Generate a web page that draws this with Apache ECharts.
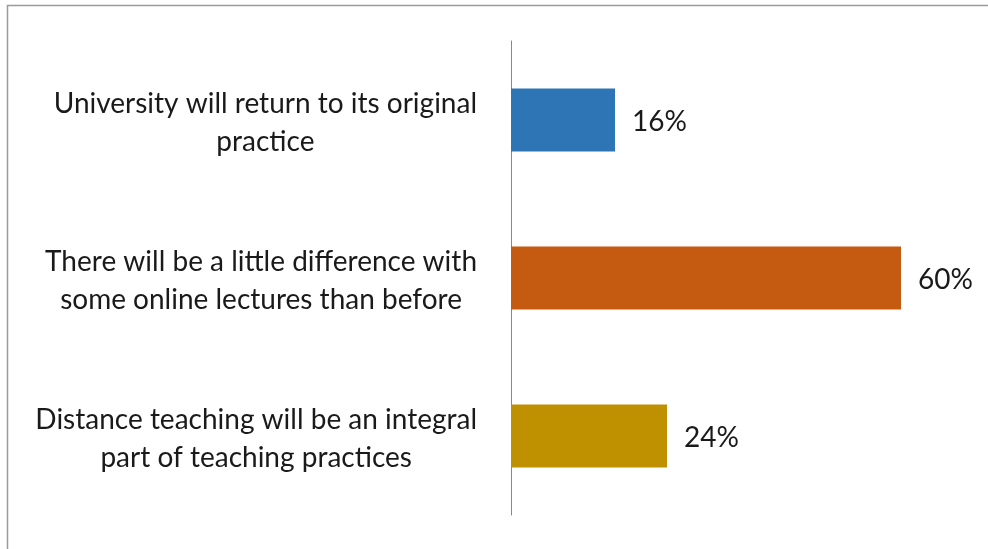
<!DOCTYPE html>
<html>
<head>
<meta charset="utf-8">
<script src="https://cdn.jsdelivr.net/npm/echarts@6/dist/echarts.min.js"></script>
<style>
html,body{margin:0;padding:0;background:#fff;}
#chart{width:988px;height:549px;}
</style>
</head>
<body>
<div id="chart"></div>
<script>
var categories = [
  "University will return to its original\npractice",
  "There will be a little difference with\nsome online lectures than before",
  "Distance teaching will be an integral\npart of teaching practices"
];
var values = [16, 60, 24];
var barColors = ["#2e75b6", "#c55a11", "#bf9000"];

var FONT = "Lato";
var FS = 28;
var chart = echarts.init(document.getElementById('chart'));
chart.setOption({
  animation: false,
  backgroundColor: '#fff',
  graphic: [{
    type: 'rect',
    shape: { x: 7.5, y: 5.5, width: 1000, height: 600 },
    style: { fill: 'none', stroke: '#9a9a9a', lineWidth: 1.5 },
    silent: true
  }],
  grid: { left: 511, top: 41, width: 455, height: 474, containLabel: false },
  xAxis: {
    type: 'value', min: 0, max: 70,
    show: false
  },
  yAxis: {
    type: 'category',
    inverse: true,
    data: categories,
    axisLine: { show: true, lineStyle: { color: '#888', width: 1 } },
    axisTick: { show: false },
    axisLabel: {
      margin: 34,
      align: 'right',
      padding: [6, 0, 0, 0],
      color: '#1a1a1a',
      fontFamily: FONT,
      fontSize: FS,
      lineHeight: 38,
      formatter: function (v) {
        return v.split('\n').map(function (l) { return '{c|' + l + '}'; }).join('\n');
      },
      rich: {
        c: { align: 'center', fontFamily: FONT, fontSize: FS, lineHeight: 38, color: '#1a1a1a' }
      }
    }
  },
  series: [{
    type: 'bar',
    barWidth: 63,
    data: values.map(function (v, i) { return { value: v, itemStyle: { color: barColors[i] } }; }),
    label: {
      show: true,
      position: 'right',
      distance: 17,
      offset: [0, 2],
      formatter: '{c}%',
      color: '#1a1a1a',
      fontFamily: FONT,
      fontSize: FS
    }
  }]
});
</script>
</body>
</html>
